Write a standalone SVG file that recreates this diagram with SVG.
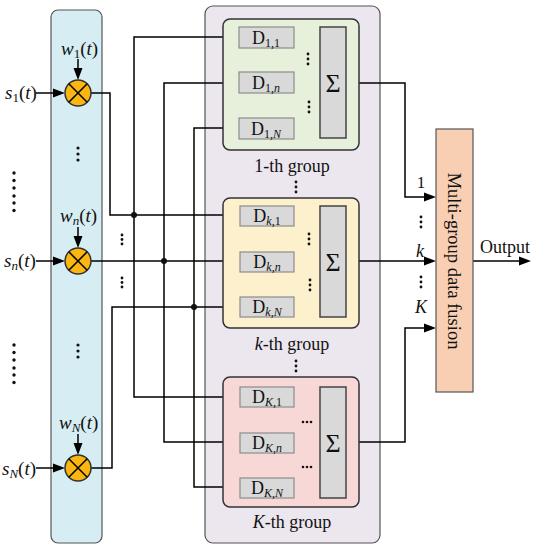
<svg xmlns="http://www.w3.org/2000/svg" width="534" height="550" viewBox="0 0 534 550">
<style>
.ln{fill:none;stroke:#000;stroke-width:1.5}
.ar{fill:none;stroke:#000;stroke-width:1.5}
.ah{fill:#000;stroke:none}
.t{font-family:"Liberation Serif","Times New Roman",serif;fill:#111}
.i{font-style:italic}
.dbox{fill:#d9d9d9;stroke:#8c8c8c;stroke-width:1.2}
.sig{fill:#d9d9d9;stroke:#444;stroke-width:1.5}
.mul{fill:#fbb612;stroke:#333;stroke-width:1.5}
.dot{fill:#111}
.grp{stroke:#333;stroke-width:1.5}
</style>

<g id="weight-column">
<rect x="51" y="10" width="51" height="533" rx="7" fill="#d6edf3" stroke="#555" stroke-width="1.2"/>
</g>
<g id="filter-bank">
<rect x="205" y="6" width="175" height="537" rx="8" fill="#ece6ef" stroke="#555" stroke-width="1.2"/>
</g>

<g id="connectors">
<line class="ar" x1="36" y1="93" x2="56" y2="93"/>
<line class="ar" x1="36" y1="261" x2="56" y2="261"/>
<line class="ar" x1="36" y1="468" x2="56" y2="468"/>
<line class="ar" x1="78" y1="59" x2="78" y2="71"/>
<line class="ar" x1="78" y1="227" x2="78" y2="239"/>
<line class="ar" x1="78" y1="434" x2="78" y2="446"/>
<polyline class="ar" points="91,93 110,93 110,215 231,215"/>
<line class="ar" x1="91" y1="261" x2="231" y2="261"/>
<polyline class="ar" points="91,468 112,468 112,307 231,307"/>
<polyline class="ar" points="230,37 134,37 134,397 231,397"/>
<polyline class="ar" points="230,83 164,83 164,442 231,442"/>
<polyline class="ar" points="230,128 194,128 194,487 231,487"/>
<circle class="dot" cx="134" cy="215" r="3"/>
<circle class="dot" cx="164" cy="261" r="3"/>
<circle class="dot" cx="194" cy="307" r="3"/>
<line class="ar" x1="294" y1="37" x2="311" y2="37"/>
<line class="ar" x1="294" y1="83" x2="311" y2="83"/>
<line class="ar" x1="294" y1="128" x2="311" y2="128"/>
<line class="ar" x1="294" y1="216" x2="311" y2="216"/>
<line class="ar" x1="294" y1="262" x2="311" y2="262"/>
<line class="ar" x1="294" y1="307" x2="311" y2="307"/>
<line class="ar" x1="294" y1="397" x2="311" y2="397"/>
<line class="ar" x1="294" y1="443" x2="311" y2="443"/>
<line class="ar" x1="294" y1="488" x2="311" y2="488"/>
<polyline class="ar" points="346,83 405,83 405,197 427,197"/>
<line class="ar" x1="346" y1="261" x2="427" y2="261"/>
<polyline class="ar" points="346,442 405,442 405,328 427,328"/>
<line class="ar" x1="473" y1="261" x2="522" y2="261"/>
<!-- arrowheads -->
<polygon class="ah" points="53,88.5 65,93 53,97.5"/>
<polygon class="ah" points="53,256.5 65,261 53,265.5"/>
<polygon class="ah" points="53,463.5 65,468 53,472.5"/>
<polygon class="ah" points="73.5,68 78,80 82.5,68"/>
<polygon class="ah" points="73.5,236 78,248 82.5,236"/>
<polygon class="ah" points="73.5,443 78,455 82.5,443"/>
<polygon class="ah" points="227,32.5 239,37 227,41.5"/>
<polygon class="ah" points="227,78.5 239,83 227,87.5"/>
<polygon class="ah" points="227,123.5 239,128 227,132.5"/>
<polygon class="ah" points="228,210.5 240,215 228,219.5"/>
<polygon class="ah" points="228,256.5 240,261 228,265.5"/>
<polygon class="ah" points="228,302.5 240,307 228,311.5"/>
<polygon class="ah" points="228,392.5 240,397 228,401.5"/>
<polygon class="ah" points="228,437.5 240,442 228,446.5"/>
<polygon class="ah" points="228,482.5 240,487 228,491.5"/>
<polygon class="ah" points="308,32.5 320,37 308,41.5"/>
<polygon class="ah" points="308,78.5 320,83 308,87.5"/>
<polygon class="ah" points="308,123.5 320,128 308,132.5"/>
<polygon class="ah" points="308,211.5 320,216 308,220.5"/>
<polygon class="ah" points="308,257.5 320,262 308,266.5"/>
<polygon class="ah" points="308,302.5 320,307 308,311.5"/>
<polygon class="ah" points="308,392.5 320,397 308,401.5"/>
<polygon class="ah" points="308,438.5 320,443 308,447.5"/>
<polygon class="ah" points="308,483.5 320,488 308,492.5"/>
<polygon class="ah" points="424,192.5 436,197 424,201.5"/>
<polygon class="ah" points="424,256.5 436,261 424,265.5"/>
<polygon class="ah" points="424,323.5 436,328 424,332.5"/>
<polygon class="ah" points="519,256.5 531,261 519,265.5"/>
</g>

<g id="mult-1">
<circle class="mul" cx="78" cy="93" r="13"/>
<path class="ln" d="M68.8,83.8 L87.2,102.2 M87.2,83.8 L68.8,102.2"/>
<text class="t" x="5" y="99" font-size="19"><tspan class="i">s</tspan><tspan font-size="13" dy="3">1</tspan><tspan dy="-3">(</tspan><tspan class="i">t</tspan>)</text>
<text class="t" x="61" y="55" font-size="19"><tspan class="i">w</tspan><tspan font-size="13" dy="3">1</tspan><tspan dy="-3">(</tspan><tspan class="i">t</tspan>)</text>
</g>
<g id="mult-n">
<circle class="mul" cx="78" cy="261" r="13"/>
<path class="ln" d="M68.8,251.8 L87.2,270.2 M87.2,251.8 L68.8,270.2"/>
<text class="t" x="4" y="267" font-size="19"><tspan class="i">s</tspan><tspan class="i" font-size="13" dy="3">n</tspan><tspan dy="-3">(</tspan><tspan class="i">t</tspan>)</text>
<text class="t" x="60" y="222" font-size="19"><tspan class="i">w</tspan><tspan class="i" font-size="13" dy="3">n</tspan><tspan dy="-3">(</tspan><tspan class="i">t</tspan>)</text>
</g>
<g id="mult-N">
<circle class="mul" cx="78" cy="468" r="13"/>
<path class="ln" d="M68.8,458.8 L87.2,477.2 M87.2,458.8 L68.8,477.2"/>
<text class="t" x="2" y="475" font-size="19"><tspan class="i">s</tspan><tspan class="i" font-size="13" dy="3">N</tspan><tspan dy="-3">(</tspan><tspan class="i">t</tspan>)</text>
<text class="t" x="59" y="429" font-size="19"><tspan class="i">w</tspan><tspan class="i" font-size="13" dy="3">N</tspan><tspan dy="-3">(</tspan><tspan class="i">t</tspan>)</text>
</g>

<g id="dots">
<circle class="dot" cx="78" cy="148" r="1.6"/><circle class="dot" cx="78" cy="154" r="1.6"/><circle class="dot" cx="78" cy="160" r="1.6"/>
<circle class="dot" cx="78" cy="345" r="1.6"/><circle class="dot" cx="78" cy="351" r="1.6"/><circle class="dot" cx="78" cy="357" r="1.6"/>
<circle class="dot" cx="14" cy="173" r="1.7"/><circle class="dot" cx="14" cy="180.5" r="1.7"/><circle class="dot" cx="14" cy="188" r="1.7"/>
<circle class="dot" cx="14" cy="196" r="1.7"/><circle class="dot" cx="14" cy="203" r="1.7"/><circle class="dot" cx="14" cy="210.5" r="1.7"/>
<circle class="dot" cx="14" cy="345" r="1.7"/><circle class="dot" cx="14" cy="352.5" r="1.7"/><circle class="dot" cx="14" cy="360" r="1.7"/>
<circle class="dot" cx="14" cy="368" r="1.7"/><circle class="dot" cx="14" cy="375" r="1.7"/><circle class="dot" cx="14" cy="382.5" r="1.7"/>
<circle class="dot" cx="122" cy="235" r="1.4"/><circle class="dot" cx="122" cy="239.5" r="1.4"/><circle class="dot" cx="122" cy="244" r="1.4"/>
<circle class="dot" cx="122" cy="278" r="1.4"/><circle class="dot" cx="122" cy="282.5" r="1.4"/><circle class="dot" cx="122" cy="287" r="1.4"/>
<circle class="dot" cx="296" cy="182" r="1.4"/><circle class="dot" cx="296" cy="187" r="1.4"/><circle class="dot" cx="296" cy="192" r="1.4"/>
<circle class="dot" cx="296" cy="361" r="1.4"/><circle class="dot" cx="296" cy="366" r="1.4"/><circle class="dot" cx="296" cy="371" r="1.4"/>
<circle class="dot" cx="421" cy="217" r="1.4"/><circle class="dot" cx="421" cy="222" r="1.4"/><circle class="dot" cx="421" cy="227" r="1.4"/>
<circle class="dot" cx="421" cy="277" r="1.4"/><circle class="dot" cx="421" cy="282" r="1.4"/><circle class="dot" cx="421" cy="287" r="1.4"/>
</g>

<g id="group-1">
<rect class="grp" x="223" y="19" width="136" height="131" rx="7" fill="#e6f0da"/>
<rect class="dbox" x="239" y="27" width="55" height="21"/>
<text class="t" x="266" y="44" font-size="18" text-anchor="middle">D<tspan font-size="12" dy="3">1,1</tspan></text>
<rect class="dbox" x="239" y="72" width="55" height="21"/>
<text class="t" x="266" y="89" font-size="18" text-anchor="middle">D<tspan font-size="12" dy="3">1,<tspan class="i">n</tspan></tspan></text>
<rect class="dbox" x="239" y="118" width="55" height="21"/>
<text class="t" x="266" y="135" font-size="18" text-anchor="middle">D<tspan font-size="12" dy="3">1,<tspan class="i">N</tspan></tspan></text>
<rect class="sig" x="320" y="27" width="26" height="111"/>
<text class="t" x="333" y="92" font-size="26" text-anchor="middle">Σ</text>
<circle class="dot" cx="308" cy="54" r="1.4"/><circle class="dot" cx="308" cy="59" r="1.4"/><circle class="dot" cx="308" cy="64" r="1.4"/>
<circle class="dot" cx="309" cy="102" r="1.4"/><circle class="dot" cx="309" cy="107" r="1.4"/><circle class="dot" cx="309" cy="112" r="1.4"/>
<text class="t" x="292" y="172" font-size="18" text-anchor="middle">1-th group</text>
</g>

<g id="group-k">
<rect class="grp" x="223" y="198" width="136" height="130" rx="7" fill="#fdf1cd"/>
<rect class="dbox" x="240" y="206" width="54" height="20"/>
<text class="t" x="267" y="222" font-size="18" text-anchor="middle">D<tspan font-size="12" dy="3"><tspan class="i">k</tspan>,1</tspan></text>
<rect class="dbox" x="240" y="252" width="54" height="20"/>
<text class="t" x="267" y="268" font-size="18" text-anchor="middle">D<tspan class="i" font-size="12" dy="3">k,n</tspan></text>
<rect class="dbox" x="240" y="297" width="54" height="20"/>
<text class="t" x="267" y="313" font-size="18" text-anchor="middle">D<tspan class="i" font-size="12" dy="3">k,N</tspan></text>
<rect class="sig" x="320" y="206" width="26" height="111"/>
<text class="t" x="333" y="271" font-size="26" text-anchor="middle">Σ</text>
<circle class="dot" cx="309" cy="234" r="1.4"/><circle class="dot" cx="309" cy="239" r="1.4"/><circle class="dot" cx="309" cy="244" r="1.4"/>
<circle class="dot" cx="310" cy="280" r="1.4"/><circle class="dot" cx="310" cy="285" r="1.4"/><circle class="dot" cx="310" cy="290" r="1.4"/>
<text class="t" x="292" y="350" font-size="18" text-anchor="middle"><tspan class="i">k</tspan>-th group</text>
</g>

<g id="group-K">
<rect class="grp" x="223" y="377" width="136" height="130" rx="7" fill="#f8d8d6"/>
<rect class="dbox" x="240" y="387" width="54" height="20"/>
<text class="t" x="267" y="403" font-size="18" text-anchor="middle">D<tspan font-size="12" dy="3"><tspan class="i">K</tspan>,1</tspan></text>
<rect class="dbox" x="240" y="433" width="54" height="20"/>
<text class="t" x="267" y="449" font-size="18" text-anchor="middle">D<tspan class="i" font-size="12" dy="3">K,n</tspan></text>
<rect class="dbox" x="240" y="478" width="54" height="20"/>
<text class="t" x="267" y="494" font-size="18" text-anchor="middle">D<tspan class="i" font-size="12" dy="3">K,N</tspan></text>
<rect class="sig" x="320" y="387" width="26" height="111"/>
<text class="t" x="333" y="452" font-size="26" text-anchor="middle">Σ</text>
<circle class="dot" cx="303" cy="422" r="1.3"/><circle class="dot" cx="307" cy="422" r="1.3"/><circle class="dot" cx="311" cy="422" r="1.3"/>
<circle class="dot" cx="303" cy="467" r="1.3"/><circle class="dot" cx="307" cy="467" r="1.3"/><circle class="dot" cx="311" cy="467" r="1.3"/>
<text class="t" x="292" y="528" font-size="18" text-anchor="middle"><tspan class="i">K</tspan>-th group</text>
</g>

<g id="fusion">
<rect x="436" y="129" width="37" height="263" fill="#f9cfb3" stroke="#555" stroke-width="1.2"/>
<text class="t" x="0" y="0" font-size="18.5" text-anchor="middle" transform="translate(448,261) rotate(90)">Multi-group data fusion</text>
<text class="t" x="421" y="188" font-size="17" text-anchor="middle">1</text>
<text class="t i" x="420" y="257" font-size="18" text-anchor="middle">k</text>
<text class="t i" x="421" y="313" font-size="18" text-anchor="middle">K</text>
<text class="t" x="505" y="253" font-size="18" text-anchor="middle">Output</text>
</g>
</svg>
